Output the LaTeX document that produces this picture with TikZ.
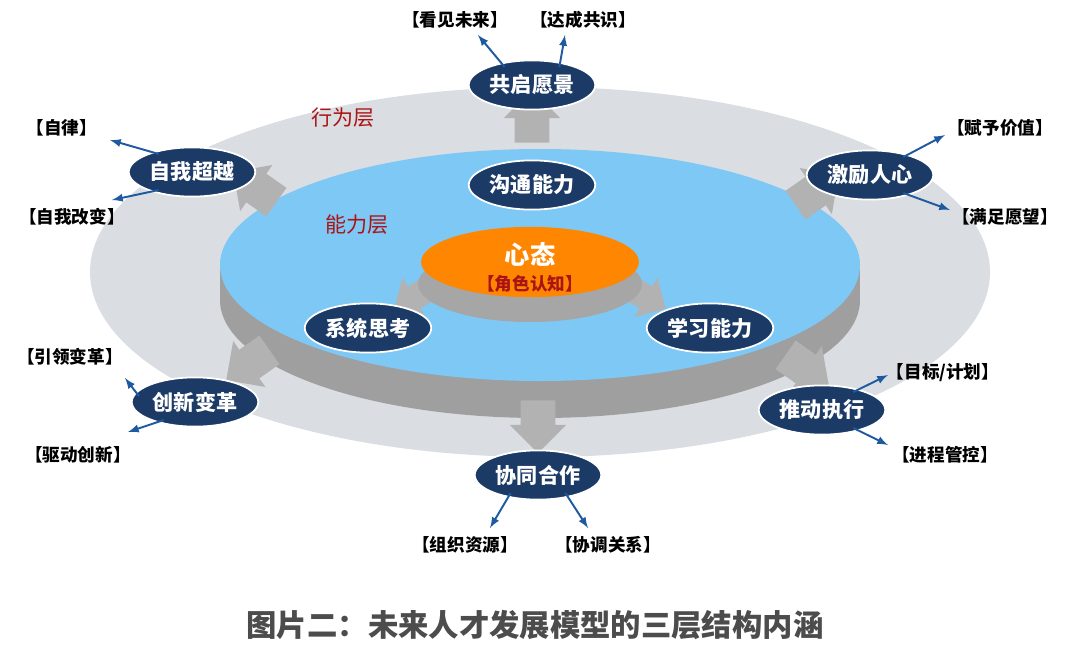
\documentclass[tikz,border=0pt]{standalone}
\usepackage{fontspec}
\setmainfont{Noto Sans CJK SC}
\usetikzlibrary{shapes.arrows,shapes.geometric}
\definecolor{navy}{RGB}{28,58,102}
\definecolor{lblue}{RGB}{126,200,245}
\definecolor{ring}{RGB}{218,221,225}
\definecolor{darkred}{RGB}{170,20,20}
\definecolor{arrblue}{RGB}{30,90,160}
\tikzset{
  skill/.style={ellipse, fill=navy, draw=white, line width=1pt, text=white, font=\bfseries\large,
                minimum width=72pt, minimum height=28pt, inner sep=0pt},
  tag/.style={font=\bfseries, text=black},
  pointer/.style={arrblue, line width=1.1pt, -latex},
  block/.style={single arrow, fill=gray!60, draw=none, minimum height=30pt, minimum width=32pt,
                single arrow head extend=5pt, inner sep=8pt},
}
\begin{document}
\begin{tikzpicture}[x=0.02cm, y=-0.02cm]
    \useasboundingbox (0,0) rectangle (1079,650);
    \fill[white] (0,0) rectangle (1079,650);

    % rings
    \fill[ring] (540,272) ellipse [x radius=450, y radius=185];
    \fill[gray!75] (540,300) ellipse [x radius=320, y radius=118];
    \fill[gray!75] (220,265) rectangle (860,300);
    \fill[lblue] (540,265) ellipse [x radius=320, y radius=116];
    \node[text=darkred, font=\large] (behave) at (343,118) {行为层};
    \node[text=darkred, font=\large] (ability) at (357,225) {能力层};

    % block arrows
    \node[block, rotate=90] (a1) at (532,125) {};
    \node[block, rotate=145] (a2) at (262,192) {};
    \node[block, rotate=35] (a3) at (810,195) {};
    \node[block, rotate=-145] (a4) at (255,360) {};
    \node[block, rotate=-35] (a5) at (800,365) {};
    \node[block, rotate=-90] (a6) at (538,418) {};
    \node[block, rotate=-150, minimum height=24pt, minimum width=26pt, inner sep=6pt] (a7) at (418,295) {};
    \node[block, rotate=-30, minimum height=24pt, minimum width=26pt, inner sep=6pt] (a8) at (642,295) {};

    % core
    \fill[gray!70] (530,284) ellipse [x radius=112, y radius=38];
    \node[ellipse, fill=orange!95!yellow, minimum width=124pt, minimum height=40pt] (core) at (530,262) {};
    \node[text=white, font=\bfseries\Large] (mind) at (530,254) {心态};
    \node[text=darkred, font=\bfseries] (role) at (530,284) {【角色认知】};

    % skills
    \node[skill] (talk) at (532,185) {沟通能力};
    \node[skill] (sys) at (368,328) {系统思考};
    \node[skill] (learn) at (710,328) {学习能力};
    \node[skill] (vision) at (532,85) {共启愿景};
    \node[skill] (self) at (192,172) {自我超越};
    \node[skill] (heart) at (870,175) {激励人心};
    \node[skill] (innov) at (195,402) {创新变革};
    \node[skill] (exec) at (822,410) {推动执行};
    \node[skill] (coop) at (538,475) {协同合作};

    % tags
    \node[tag] (t1) at (455,20) {【看见未来】};
    \node[tag] (t2) at (583,20) {【达成共识】};
    \node[tag] (t3) at (62,128) {【自律】};
    \node[tag] (t4) at (72,217) {【自我改变】};
    \node[tag] (t5) at (1000,128) {【赋予价值】};
    \node[tag] (t6) at (1005,217) {【满足愿望】};
    \node[tag] (t7) at (70,357) {【引领变革】};
    \node[tag] (t8) at (78,455) {【驱动创新】};
    \node[tag] (t9) at (943,373) {【目标/计划】};
    \node[tag] (t10) at (945,455) {【进程管控】};
    \node[tag] (t11) at (465,545) {【组织资源】};
    \node[tag] (t12) at (608,545) {【协调关系】};

    \coordinate (p1) at (478,35); \coordinate (p2) at (565,35);
    \coordinate (p3) at (110,140); \coordinate (p4) at (112,200);
    \coordinate (p5) at (945,135); \coordinate (p6) at (950,210);
    \coordinate (p7) at (125,378); \coordinate (p8) at (128,432);
    \coordinate (p9) at (888,375); \coordinate (p10) at (888,445);
    \coordinate (p11) at (490,528); \coordinate (p12) at (588,528);
    \draw[pointer] (vision.north west) ++(18,0) -- (p1);
    \draw[pointer] (vision.north east) ++(-18,0) -- (p2);
    \draw[pointer] (self.north west) ++(12,0) -- (p3);
    \draw[pointer] (self.south west) ++(12,0) -- (p4);
    \draw[pointer] (heart.north east) ++(-12,0) -- (p5);
    \draw[pointer] (heart.south east) ++(-12,0) -- (p6);
    \draw[pointer] (innov.west) ++(8,-6) -- (p7);
    \draw[pointer] (innov.south west) ++(14,0) -- (p8);
    \draw[pointer] (exec.north east) ++(-14,0) -- (p9);
    \draw[pointer] (exec.south east) ++(-14,0) -- (p10);
    \draw[pointer] (coop.south west) ++(18,0) -- (p11);
    \draw[pointer] (coop.south east) ++(-18,0) -- (p12);

    \node[text=gray!60!black, font=\bfseries\LARGE] (caption) at (535,625) {图片二：未来人才发展模型的三层结构内涵};
\end{tikzpicture}
\end{document}
